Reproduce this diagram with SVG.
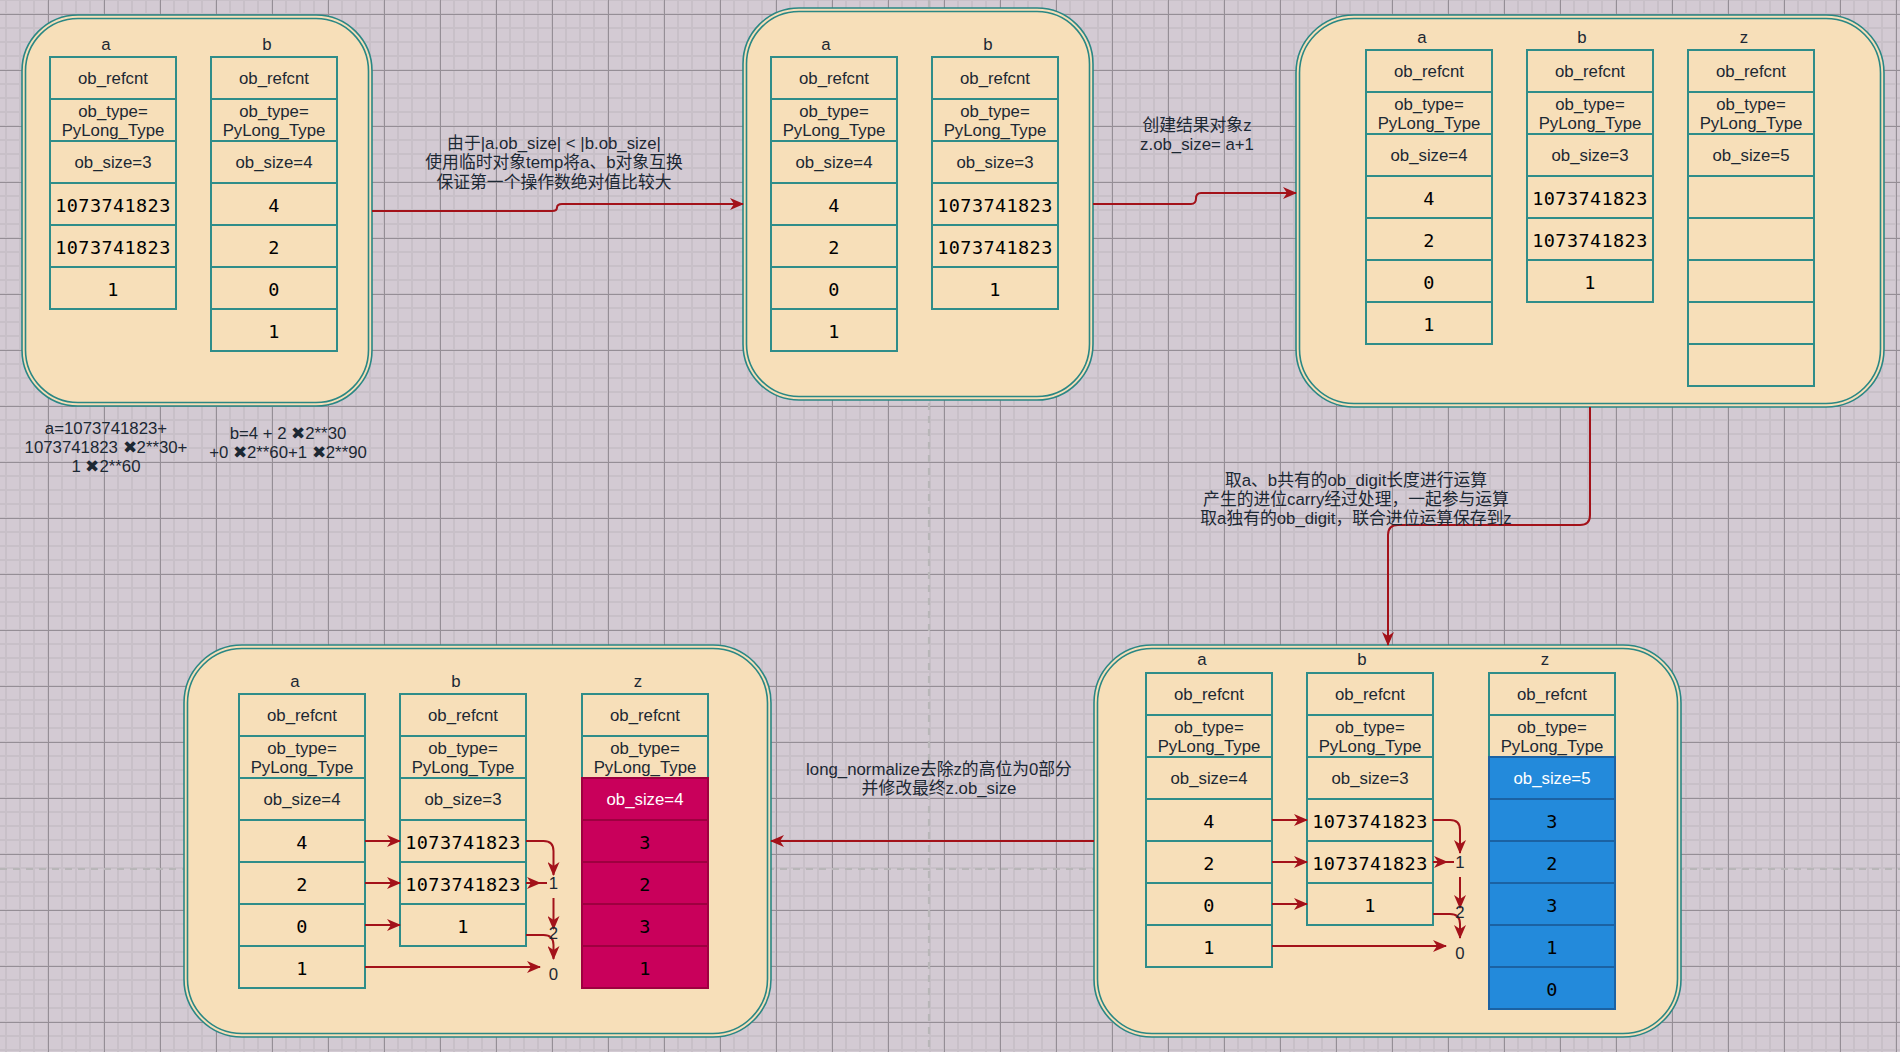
<svg xmlns="http://www.w3.org/2000/svg" xmlns:xlink="http://www.w3.org/1999/xlink" width="1900" height="1052" viewBox="0 0 1900 1052">
<style>
.po{fill:#f7dfb9;stroke:#2a8784;stroke-width:1.6}
.pi{fill:none;stroke:#2a8784;stroke-width:1.6}
.c{fill:#f7dfb9;stroke:#2f8d89;stroke-width:2}
.cz{fill:#c9005b;stroke:#9e0040;stroke-width:2}
.cb{fill:#238adb;stroke:#1b62a3;stroke-width:2}
.t{font-family:"Liberation Sans","Noto Sans CJK SC",sans-serif;font-size:16.8px;fill:#1c2833;text-anchor:middle;dominant-baseline:central}
.m{font-family:"DejaVu Sans Mono","Liberation Mono",monospace;font-size:18.5px;fill:#000;text-anchor:middle;dominant-baseline:central;letter-spacing:0.4px}
.wt{fill:#fff}
.ln{fill:none;stroke:#a3121a;stroke-width:2}
</style>
<defs>
<pattern id="minor" width="14" height="14" patternUnits="userSpaceOnUse" x="47" y="13">
<path d="M1 0V14M0 1H14" stroke="#c8c0c8" stroke-width="2"/>
</pattern>
<pattern id="major" width="56" height="56" patternUnits="userSpaceOnUse" x="48" y="14">
<path d="M0.5 0V56M0 0.5H56" stroke="#958e96" stroke-width="1"/>
</pattern>
<marker id="ah" markerUnits="userSpaceOnUse" markerWidth="14" markerHeight="12" refX="13" refY="6" orient="auto">
<path d="M0,0 L14,6 L0,12 L4,6 Z" fill="#a3121a"/>
</marker>
</defs>
<rect width="1900" height="1052" fill="#d3cad3"/>
<rect width="1900" height="1052" fill="url(#minor)"/>
<rect width="1900" height="1052" fill="url(#major)"/>
<line x1="929" y1="0" x2="929" y2="1052" stroke="#b8b6b8" stroke-width="2.2" stroke-dasharray="7 6"/>
<line x1="0" y1="869" x2="1900" y2="869" stroke="#b8b6b8" stroke-width="2.2" stroke-dasharray="7 6"/>

<g id="panel1">
<rect class="po" x="22" y="15" width="350" height="391" rx="56"/>
<rect class="pi" x="25.5" y="18.5" width="343" height="384" rx="52.5"/>
<text class="t" x="106" y="44">a</text>
<text class="t" x="267" y="44">b</text>
<g id="p1-a">
<rect class="c" x="50" y="57" width="126" height="42"/><text class="t" x="113" y="78">ob_refcnt</text>
<rect class="c" x="50" y="99" width="126" height="42"/><text class="t" x="113" y="111">ob_type=</text><text class="t" x="113" y="130">PyLong_Type</text>
<rect class="c" x="50" y="141" width="126" height="42"/><text class="t" x="113" y="162">ob_size=3</text>
<rect class="c" x="50" y="183" width="126" height="42"/><text class="m" x="113" y="205">1073741823</text>
<rect class="c" x="50" y="225" width="126" height="42"/><text class="m" x="113" y="247">1073741823</text>
<rect class="c" x="50" y="267" width="126" height="42"/><text class="m" x="113" y="289">1</text>
</g>
<g id="p1-b">
<rect class="c" x="211" y="57" width="126" height="42"/><text class="t" x="274" y="78">ob_refcnt</text>
<rect class="c" x="211" y="99" width="126" height="42"/><text class="t" x="274" y="111">ob_type=</text><text class="t" x="274" y="130">PyLong_Type</text>
<rect class="c" x="211" y="141" width="126" height="42"/><text class="t" x="274" y="162">ob_size=4</text>
<rect class="c" x="211" y="183" width="126" height="42"/><text class="m" x="274" y="205">4</text>
<rect class="c" x="211" y="225" width="126" height="42"/><text class="m" x="274" y="247">2</text>
<rect class="c" x="211" y="267" width="126" height="42"/><text class="m" x="274" y="289">0</text>
<rect class="c" x="211" y="309" width="126" height="42"/><text class="m" x="274" y="331">1</text>
</g>
</g>

<g id="notes">
<text class="t" x="106" y="428">a=1073741823+</text>
<text class="t" x="106" y="447">1073741823 ✖2**30+</text>
<text class="t" x="106" y="466">1 ✖2**60</text>
<text class="t" x="288" y="433">b=4 + 2 ✖2**30</text>
<text class="t" x="288" y="452">+0 ✖2**60+1 ✖2**90</text>
</g>

<g id="panel2">
<rect class="po" x="743" y="8" width="350" height="392" rx="56"/>
<rect class="pi" x="746.5" y="11.5" width="343" height="385" rx="52.5"/>
<text class="t" x="826" y="44">a</text>
<text class="t" x="988" y="44">b</text>
<g id="p2-a">
<rect class="c" x="771" y="57" width="126" height="42"/><text class="t" x="834" y="78">ob_refcnt</text>
<rect class="c" x="771" y="99" width="126" height="42"/><text class="t" x="834" y="111">ob_type=</text><text class="t" x="834" y="130">PyLong_Type</text>
<rect class="c" x="771" y="141" width="126" height="42"/><text class="t" x="834" y="162">ob_size=4</text>
<rect class="c" x="771" y="183" width="126" height="42"/><text class="m" x="834" y="205">4</text>
<rect class="c" x="771" y="225" width="126" height="42"/><text class="m" x="834" y="247">2</text>
<rect class="c" x="771" y="267" width="126" height="42"/><text class="m" x="834" y="289">0</text>
<rect class="c" x="771" y="309" width="126" height="42"/><text class="m" x="834" y="331">1</text>
</g>
<g id="p2-b">
<rect class="c" x="932" y="57" width="126" height="42"/><text class="t" x="995" y="78">ob_refcnt</text>
<rect class="c" x="932" y="99" width="126" height="42"/><text class="t" x="995" y="111">ob_type=</text><text class="t" x="995" y="130">PyLong_Type</text>
<rect class="c" x="932" y="141" width="126" height="42"/><text class="t" x="995" y="162">ob_size=3</text>
<rect class="c" x="932" y="183" width="126" height="42"/><text class="m" x="995" y="205">1073741823</text>
<rect class="c" x="932" y="225" width="126" height="42"/><text class="m" x="995" y="247">1073741823</text>
<rect class="c" x="932" y="267" width="126" height="42"/><text class="m" x="995" y="289">1</text>
</g>
</g>

<g id="panel3">
<rect class="po" x="1296" y="15" width="588" height="392" rx="58"/>
<rect class="pi" x="1299.5" y="18.5" width="581" height="385" rx="54.5"/>
<text class="t" x="1422" y="37">a</text>
<text class="t" x="1582" y="37">b</text>
<text class="t" x="1744" y="37">z</text>
<g id="p3-a">
<rect class="c" x="1366" y="50" width="126" height="42"/><text class="t" x="1429" y="71">ob_refcnt</text>
<rect class="c" x="1366" y="92" width="126" height="42"/><text class="t" x="1429" y="104">ob_type=</text><text class="t" x="1429" y="123">PyLong_Type</text>
<rect class="c" x="1366" y="134" width="126" height="42"/><text class="t" x="1429" y="155">ob_size=4</text>
<rect class="c" x="1366" y="176" width="126" height="42"/><text class="m" x="1429" y="198">4</text>
<rect class="c" x="1366" y="218" width="126" height="42"/><text class="m" x="1429" y="240">2</text>
<rect class="c" x="1366" y="260" width="126" height="42"/><text class="m" x="1429" y="282">0</text>
<rect class="c" x="1366" y="302" width="126" height="42"/><text class="m" x="1429" y="324">1</text>
</g>
<g id="p3-b">
<rect class="c" x="1527" y="50" width="126" height="42"/><text class="t" x="1590" y="71">ob_refcnt</text>
<rect class="c" x="1527" y="92" width="126" height="42"/><text class="t" x="1590" y="104">ob_type=</text><text class="t" x="1590" y="123">PyLong_Type</text>
<rect class="c" x="1527" y="134" width="126" height="42"/><text class="t" x="1590" y="155">ob_size=3</text>
<rect class="c" x="1527" y="176" width="126" height="42"/><text class="m" x="1590" y="198">1073741823</text>
<rect class="c" x="1527" y="218" width="126" height="42"/><text class="m" x="1590" y="240">1073741823</text>
<rect class="c" x="1527" y="260" width="126" height="42"/><text class="m" x="1590" y="282">1</text>
</g>
<g id="p3-z">
<rect class="c" x="1688" y="50" width="126" height="42"/><text class="t" x="1751" y="71">ob_refcnt</text>
<rect class="c" x="1688" y="92" width="126" height="42"/><text class="t" x="1751" y="104">ob_type=</text><text class="t" x="1751" y="123">PyLong_Type</text>
<rect class="c" x="1688" y="134" width="126" height="42"/><text class="t" x="1751" y="155">ob_size=5</text>
<rect class="c" x="1688" y="176" width="126" height="42"/>
<rect class="c" x="1688" y="218" width="126" height="42"/>
<rect class="c" x="1688" y="260" width="126" height="42"/>
<rect class="c" x="1688" y="302" width="126" height="42"/>
<rect class="c" x="1688" y="344" width="126" height="42"/>
</g>
</g>

<g id="panel4">
<rect class="po" x="1094" y="645" width="587" height="392" rx="58"/>
<rect class="pi" x="1097.5" y="648.5" width="580" height="385" rx="54.5"/>
<text class="t" x="1202" y="659">a</text>
<text class="t" x="1362" y="659">b</text>
<text class="t" x="1545" y="659">z</text>
<g id="p4-a">
<rect class="c" x="1146" y="673" width="126" height="42"/><text class="t" x="1209" y="694">ob_refcnt</text>
<rect class="c" x="1146" y="715" width="126" height="42"/><text class="t" x="1209" y="727">ob_type=</text><text class="t" x="1209" y="746">PyLong_Type</text>
<rect class="c" x="1146" y="757" width="126" height="42"/><text class="t" x="1209" y="778">ob_size=4</text>
<rect class="c" x="1146" y="799" width="126" height="42"/><text class="m" x="1209" y="821">4</text>
<rect class="c" x="1146" y="841" width="126" height="42"/><text class="m" x="1209" y="863">2</text>
<rect class="c" x="1146" y="883" width="126" height="42"/><text class="m" x="1209" y="905">0</text>
<rect class="c" x="1146" y="925" width="126" height="42"/><text class="m" x="1209" y="947">1</text>
</g>
<g id="p4-b">
<rect class="c" x="1307" y="673" width="126" height="42"/><text class="t" x="1370" y="694">ob_refcnt</text>
<rect class="c" x="1307" y="715" width="126" height="42"/><text class="t" x="1370" y="727">ob_type=</text><text class="t" x="1370" y="746">PyLong_Type</text>
<rect class="c" x="1307" y="757" width="126" height="42"/><text class="t" x="1370" y="778">ob_size=3</text>
<rect class="c" x="1307" y="799" width="126" height="42"/><text class="m" x="1370" y="821">1073741823</text>
<rect class="c" x="1307" y="841" width="126" height="42"/><text class="m" x="1370" y="863">1073741823</text>
<rect class="c" x="1307" y="883" width="126" height="42"/><text class="m" x="1370" y="905">1</text>
</g>
<g id="p4-z">
<rect class="c" x="1489" y="673" width="126" height="42"/><text class="t" x="1552" y="694">ob_refcnt</text>
<rect class="c" x="1489" y="715" width="126" height="42"/><text class="t" x="1552" y="727">ob_type=</text><text class="t" x="1552" y="746">PyLong_Type</text>
<rect class="cb" x="1489" y="757" width="126" height="42"/><text class="t wt" x="1552" y="778">ob_size=5</text>
<rect class="cb" x="1489" y="799" width="126" height="42"/><text class="m" x="1552" y="821">3</text>
<rect class="cb" x="1489" y="841" width="126" height="42"/><text class="m" x="1552" y="863">2</text>
<rect class="cb" x="1489" y="883" width="126" height="42"/><text class="m" x="1552" y="905">3</text>
<rect class="cb" x="1489" y="925" width="126" height="42"/><text class="m" x="1552" y="947">1</text>
<rect class="cb" x="1489" y="967" width="126" height="42"/><text class="m" x="1552" y="989">0</text>
</g>
</g>

<g id="panel5">
<rect class="po" x="184" y="645" width="587" height="392" rx="58"/>
<rect class="pi" x="187.5" y="648.5" width="580" height="385" rx="54.5"/>
<text class="t" x="295" y="681">a</text>
<text class="t" x="456" y="681">b</text>
<text class="t" x="638" y="681">z</text>
<g id="p5-a">
<rect class="c" x="239" y="694" width="126" height="42"/><text class="t" x="302" y="715">ob_refcnt</text>
<rect class="c" x="239" y="736" width="126" height="42"/><text class="t" x="302" y="748">ob_type=</text><text class="t" x="302" y="767">PyLong_Type</text>
<rect class="c" x="239" y="778" width="126" height="42"/><text class="t" x="302" y="799">ob_size=4</text>
<rect class="c" x="239" y="820" width="126" height="42"/><text class="m" x="302" y="842">4</text>
<rect class="c" x="239" y="862" width="126" height="42"/><text class="m" x="302" y="884">2</text>
<rect class="c" x="239" y="904" width="126" height="42"/><text class="m" x="302" y="926">0</text>
<rect class="c" x="239" y="946" width="126" height="42"/><text class="m" x="302" y="968">1</text>
</g>
<g id="p5-b">
<rect class="c" x="400" y="694" width="126" height="42"/><text class="t" x="463" y="715">ob_refcnt</text>
<rect class="c" x="400" y="736" width="126" height="42"/><text class="t" x="463" y="748">ob_type=</text><text class="t" x="463" y="767">PyLong_Type</text>
<rect class="c" x="400" y="778" width="126" height="42"/><text class="t" x="463" y="799">ob_size=3</text>
<rect class="c" x="400" y="820" width="126" height="42"/><text class="m" x="463" y="842">1073741823</text>
<rect class="c" x="400" y="862" width="126" height="42"/><text class="m" x="463" y="884">1073741823</text>
<rect class="c" x="400" y="904" width="126" height="42"/><text class="m" x="463" y="926">1</text>
</g>
<g id="p5-z">
<rect class="c" x="582" y="694" width="126" height="42"/><text class="t" x="645" y="715">ob_refcnt</text>
<rect class="c" x="582" y="736" width="126" height="42"/><text class="t" x="645" y="748">ob_type=</text><text class="t" x="645" y="767">PyLong_Type</text>
<rect class="cz" x="582" y="778" width="126" height="42"/><text class="t wt" x="645" y="799">ob_size=4</text>
<rect class="cz" x="582" y="820" width="126" height="42"/><text class="m" x="645" y="842">3</text>
<rect class="cz" x="582" y="862" width="126" height="42"/><text class="m" x="645" y="884">2</text>
<rect class="cz" x="582" y="904" width="126" height="42"/><text class="m" x="645" y="926">3</text>
<rect class="cz" x="582" y="946" width="126" height="42"/><text class="m" x="645" y="968">1</text>
</g>
</g>

<g id="connectors">
<path class="ln" d="M372,211 H552 Q557,211 557,207.5 Q557,204 562,204 H743" marker-end="url(#ah)"/>
<text class="t" x="554" y="143">由于|a.ob_size| &lt; |b.ob_size|</text>
<text class="t" x="554" y="162">使用临时对象temp将a、b对象互换</text>
<text class="t" x="554" y="182">保证第一个操作数绝对值比较大</text>

<path class="ln" d="M1093,204 H1191 Q1196,204 1196,198.5 Q1196,193 1201,193 H1296" marker-end="url(#ah)"/>
<text class="t" x="1197" y="125">创建结果对象z</text>
<text class="t" x="1197" y="144">z.ob_size= a+1</text>

<path class="ln" d="M1590,407 V515 Q1590,525 1580,525 H1398 Q1388,525 1388,535 V645" marker-end="url(#ah)"/>
<text class="t" x="1356" y="480">取a、b共有的ob_digit长度进行运算</text>
<text class="t" x="1356" y="499">产生的进位carry经过处理，一起参与运算</text>
<text class="t" x="1356" y="518">取a独有的ob_digit，联合进位运算保存到z</text>

<path class="ln" d="M1094,841 H771" marker-end="url(#ah)"/>
<text class="t" x="939" y="769">long_normalize去除z的高位为0部分</text>
<text class="t" x="939" y="788">并修改最终z.ob_size</text>

<g id="inner4">
<path class="ln" d="M1272,820 H1307" marker-end="url(#ah)"/>
<path class="ln" d="M1272,862 H1307" marker-end="url(#ah)"/>
<path class="ln" d="M1272,904 H1307" marker-end="url(#ah)"/>
<path class="ln" d="M1272,946 H1446" marker-end="url(#ah)"/>
<path class="ln" d="M1433,820 H1450 Q1460,820 1460,830 V853" marker-end="url(#ah)"/>
<path class="ln" d="M1433,862 H1447" marker-end="url(#ah)"/>
<path class="ln" d="M1446,862 H1454"/>
<path class="ln" d="M1460,877 V908" marker-end="url(#ah)"/>
<path class="ln" d="M1433,914 H1450 Q1460,914 1460,924 V938" marker-end="url(#ah)"/>
<text class="t" x="1460" y="862">1</text>
<text class="t" x="1460" y="912">2</text>
<text class="t" x="1460" y="953">0</text>
</g>
<g id="inner5">
<path class="ln" d="M365,841 H400" marker-end="url(#ah)"/>
<path class="ln" d="M365,883 H400" marker-end="url(#ah)"/>
<path class="ln" d="M365,925 H400" marker-end="url(#ah)"/>
<path class="ln" d="M365,967 H540" marker-end="url(#ah)"/>
<path class="ln" d="M526,841 H543.5 Q553.5,841 553.5,851 V875" marker-end="url(#ah)"/>
<path class="ln" d="M526,883 H540" marker-end="url(#ah)"/>
<path class="ln" d="M539,883 H547"/>
<path class="ln" d="M553.5,898 V929" marker-end="url(#ah)"/>
<path class="ln" d="M526,935 H543.5 Q553.5,935 553.5,945 V959" marker-end="url(#ah)"/>
<text class="t" x="553.5" y="883">1</text>
<text class="t" x="553.5" y="933">2</text>
<text class="t" x="553.5" y="974">0</text>
</g>
</g>
</svg>
